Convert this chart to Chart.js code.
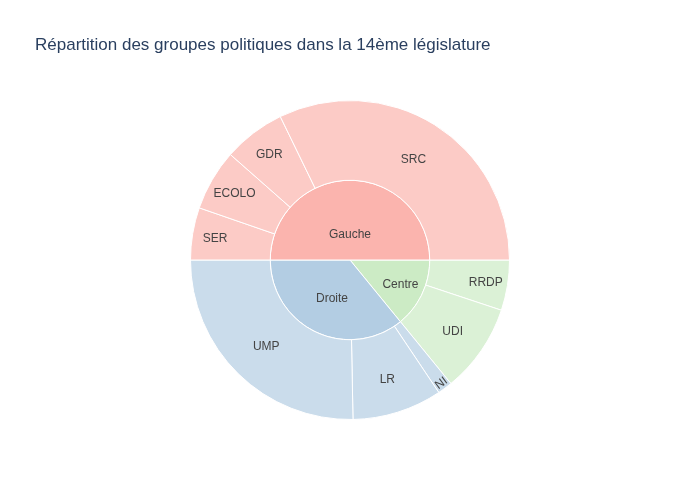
<!DOCTYPE html>
<html>
<head>
<meta charset="utf-8">
<script src="https://cdn.jsdelivr.net/npm/chart.js@4.4.1/dist/chart.umd.min.js"></script>
<style>
  html, body { margin: 0; padding: 0; background: #ffffff; }
  #wrap { width: 700px; height: 500px; position: relative; }
</style>
</head>
<body>
<div id="wrap"><canvas id="c" width="700" height="500"></canvas></div>
<script>
// ---- Data ----
const groups = ['Gauche', 'Droite', 'Centre'];
const groupValues = [500, 359, 141];
const subgroups = ['SRC', 'GDR', 'ECOLO', 'SER', 'UMP', 'LR', 'NI', 'UDI', 'RRDP'];
const subgroupParents = ['Gauche', 'Gauche', 'Gauche', 'Gauche', 'Droite', 'Droite', 'Droite', 'Centre', 'Centre'];
const subgroupValues = [322, 63, 62, 53, 253, 91, 15, 90, 51];
const titleText = 'Répartition des groupes politiques dans la 14ème législature';

// ---- Styles ----
const groupColors = { 'Gauche': '#FBB4AE', 'Droite': '#B3CDE3', 'Centre': '#CCEBC5' };
function tint(hex, a) {
  const n = parseInt(hex.slice(1), 16);
  const r = (n >> 16) & 255, g = (n >> 8) & 255, b = n & 255;
  const m = v => Math.round(v * a + 255 * (1 - a));
  return 'rgb(' + m(r) + ',' + m(g) + ',' + m(b) + ')';
}
const FONT = '"Liberation Sans", Arial, Helvetica, sans-serif';

// Plotly draws counter-clockwise from east; Chart.js draws clockwise, so reverse order.
const innerLabels = groups.slice().reverse();
const innerValues = groupValues.slice().reverse();
const innerColors = innerLabels.map(g => groupColors[g]);
const outerLabels = subgroups.slice().reverse();
const outerValues = subgroupValues.slice().reverse();
const outerColors = subgroupParents.slice().reverse().map(p => tint(groupColors[p], 0.7));

const sliceLabels = {
  id: 'sliceLabels',
  afterDatasetsDraw(chart) {
    const ctx = chart.ctx;
    chart.data.datasets.forEach((ds, di) => {
      const meta = chart.getDatasetMeta(di);
      meta.data.forEach((el, i) => {
        const txt = ds.names[i];
        const start = el.startAngle, end = el.endAngle;
        const rIn = el.innerRadius, rOut = el.outerRadius;
        const span = end - start;
        const mid = (start + end) / 2;
        const half = 0.5 * Math.min(Math.PI, span);
        const ring = 1 - rIn / rOut;
        const rInsc = Math.max(0, Math.min(1 / (1 + 1 / Math.sin(half)), ring / 2));
        let rc = 1 - rInsc;
        ctx.save();
        ctx.font = '12px ' + FONT;
        const w = ctx.measureText(txt).width, h = 14;
        const scale = rInsc * rOut * 2 / Math.hypot(w, h);
        let rot = 0;
        if (rIn < 1 && span >= Math.PI - 1e-3) {
          rc = 1 / 3;
        } else if (scale < 1) {
          rot = mid - Math.PI / 2;
          while (rot > Math.PI / 2) rot -= Math.PI;
          while (rot < -Math.PI / 2) rot += Math.PI;
        }
        const x = el.x + Math.cos(mid) * rc * rOut;
        const y = el.y + Math.sin(mid) * rc * rOut;
        ctx.translate(x, y);
        ctx.rotate(rot);
        ctx.fillStyle = '#444444';
        ctx.textAlign = 'center';
        ctx.textBaseline = 'middle';
        ctx.fillText(txt, 0, 1);
        ctx.restore();
      });
    });
  }
};

new Chart(document.getElementById('c'), {
  type: 'doughnut',
  data: {
    labels: outerLabels,
    datasets: [
      { data: outerValues, names: outerLabels, backgroundColor: outerColors,
        borderColor: '#ffffff', borderWidth: 1 },
      { data: innerValues, names: innerLabels, backgroundColor: innerColors,
        borderColor: '#ffffff', borderWidth: 1 }
    ]
  },
  options: {
    responsive: false,
    animation: false,
    rotation: 90,
    cutout: 0,
    layout: { padding: { top: 0, bottom: 80, left: 35, right: 35 } },
    plugins: {
      legend: { display: false },
      tooltip: { enabled: false },
      title: {
        display: true,
        text: titleText,
        align: 'start',
        color: '#2a3f5f',
        font: { family: FONT, size: 17, weight: 'normal' },
        padding: { top: 34.8, bottom: 44.8 }
      }
    }
  },
  plugins: [sliceLabels]
});
</script>
</body>
</html>
